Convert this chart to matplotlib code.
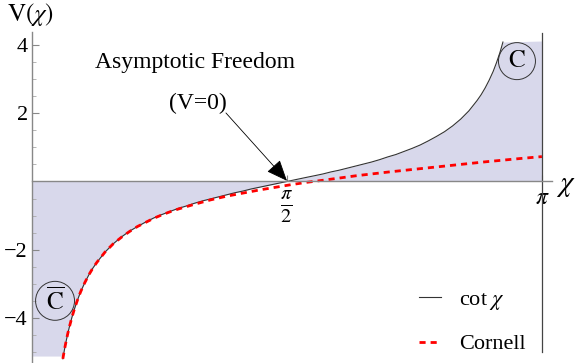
import numpy as np
import matplotlib
matplotlib.use('Agg')
import matplotlib.pyplot as plt

plt.rcParams['font.family'] = ['Liberation Serif', 'DejaVu Serif']
plt.rcParams['mathtext.fontset'] = 'stix'
plt.rcParams['axes.unicode_minus'] = True

# 读出的曲线点 (chi, cot chi 曲线)
chi = [0.19, 0.20, 0.21, 0.22, 0.23, 0.245, 0.26, 0.28, 0.30, 0.325, 0.35, 0.375,
       0.40, 0.45, 0.50, 0.55, 0.60, 0.65, 0.70, 0.75, 0.80, 0.85, 0.90, 0.95,
       1.00, 1.05, 1.10, 1.15, 1.20, 1.25, 1.30, 1.35, 1.40, 1.45, 1.52, 1.5708,
       1.62, 1.69, 1.7416, 1.7916, 1.8416, 1.8916, 1.9416, 1.9916, 2.0416, 2.0916,
       2.1416, 2.1916, 2.2416, 2.2916, 2.3416, 2.3916, 2.4416, 2.4916, 2.5416,
       2.5916, 2.6416, 2.6916, 2.7416, 2.7666, 2.7916, 2.8166, 2.8416, 2.8616,
       2.8816, 2.8916, 2.9016]
v_cot = [-5.20, -4.93, -4.69, -4.47, -4.27, -4.00, -3.76, -3.48, -3.23, -2.97,
         -2.74, -2.54, -2.37, -2.07, -1.83, -1.63, -1.46, -1.32, -1.19, -1.07,
         -0.97, -0.88, -0.79, -0.72, -0.64, -0.57, -0.51, -0.45, -0.39, -0.33,
         -0.28, -0.22, -0.17, -0.12, -0.05, 0.0, 0.05, 0.12, 0.17, 0.22, 0.28,
         0.33, 0.39, 0.45, 0.51, 0.57, 0.64, 0.72, 0.79, 0.88, 0.97, 1.07, 1.19,
         1.32, 1.46, 1.63, 1.83, 2.07, 2.37, 2.54, 2.74, 2.97, 3.23, 3.48, 3.76,
         3.92, 4.09]

# Cornell 曲线
chi_c = [0.19, 0.20, 0.21, 0.22, 0.23, 0.245, 0.26, 0.28, 0.30, 0.325, 0.35,
         0.375, 0.40, 0.45, 0.50, 0.55, 0.60, 0.65, 0.70, 0.75, 0.80, 0.85, 0.90,
         0.95, 1.00, 1.10, 1.20, 1.30, 1.40, 1.50, 1.60, 1.70, 1.80, 2.00, 2.20,
         2.40, 2.60, 2.80, 3.00, 3.1416]
v_cornell = [-5.20, -4.93, -4.69, -4.47, -4.27, -4.00, -3.76, -3.48, -3.23, -2.97,
             -2.74, -2.54, -2.37, -2.07, -1.83, -1.64, -1.47, -1.32, -1.20, -1.08,
             -0.98, -0.89, -0.81, -0.74, -0.67, -0.54, -0.43, -0.34, -0.25, -0.17,
             -0.09, -0.02, 0.04, 0.17, 0.28, 0.38, 0.48, 0.58, 0.67, 0.73]

y_lo, y_hi = -5.12, 4.12
x_ticks = [np.pi / 2, np.pi]
x_ticklabels = [r'$\frac{\pi}{2}$', r'$\pi$']
y_ticks = [-4, -2, 2, 4]

fig = plt.figure(figsize=(5.77, 3.63), dpi=100)
ax = fig.add_axes([32 / 577, 0, 520 / 577, 331 / 363])
ax.set_xlim(0, 520 / 162.3)
ax.set_ylim(-181.5 / 34.1 - 0.001, 149.5 / 34.1)

# 填充区域
xf = np.concatenate([[0.0], chi, [np.pi]])
yf = np.clip(np.concatenate([[y_lo], v_cot, [y_hi]]), y_lo, y_hi)
ax.fill_between(xf, 0, yf, color='#d8d8eb', lw=0)

ax.plot(chi, v_cot, color='#333333', lw=0.8, label=r'cot $\chi$')
ax.plot(chi_c, v_cornell, color='red', lw=2, ls=(0, (2.2, 1.8)), label='Cornell')

ax.plot([np.pi, np.pi], [4.35, -5.0], color='#444444', lw=0.9)

for s in ['top', 'right']:
    ax.spines[s].set_visible(False)
ax.spines['bottom'].set_position(('data', 0))
ax.spines['left'].set_position(('data', 0))
for s in ['bottom', 'left']:
    ax.spines[s].set_color('#888888')
    ax.spines[s].set_linewidth(1.0)

ax.set_yticks(y_ticks)
ax.set_yticks(np.arange(-5, 4.5, 0.5), minor=True)
ax.set_xticks(x_ticks)
ax.set_xticklabels(x_ticklabels)
ax.tick_params(axis='y', which='major', direction='in', length=5, color='#888888',
               labelsize=16, pad=3)
ax.tick_params(axis='y', which='minor', direction='in', length=3, color='#aaaaaa')
ax.tick_params(axis='x', which='major', direction='in', length=4, color='#888888',
               labelsize=16, pad=5)
ax.get_xticklabels()[0].set_fontsize(21)
ax.get_xticklabels()[1].set_fontsize(17)

fig.text(30 / 577, 1 - 14 / 363, r'$\mathrm{V}(\chi)$', fontsize=18, ha='center', va='center')
fig.text(566 / 577, 1 - 186 / 363, r'$\chi$', fontsize=21, ha='center', va='center')

ax.text(1.004, 3.50, 'Asymptotic Freedom', fontsize=17, ha='center', va='center')
ax.text(1.023, 2.30, '(V=0)', fontsize=17, ha='center', va='center')
ax.annotate('', xy=(np.pi / 2, 0.02), xytext=(1.195, 2.01),
            arrowprops=dict(arrowstyle='-|>,head_length=0.6,head_width=0.25',
                            color='black', lw=0.6, mutation_scale=22,
                            shrinkA=0, shrinkB=0))

ax.text(2.988, 3.53, r'$\mathrm{C}$', fontsize=18, ha='center', va='center',
        bbox=dict(boxstyle='circle,pad=0.3', fc='none', ec='#333333', lw=0.7))
ax.text(0.142, -3.50, r'$\overline{\mathrm{C}}$', fontsize=18, ha='center', va='center',
        bbox=dict(boxstyle='circle,pad=0.22', fc='none', ec='#333333', lw=0.7))

ax.legend(loc='upper left', bbox_to_anchor=(419 / 577, 1 - 289 / 363),
          bbox_transform=fig.transFigure, frameon=False, fontsize=16,
          handlelength=1.0, handletextpad=0.8, labelspacing=1.0, borderpad=0,
          borderaxespad=0)

plt.savefig('out.png', dpi=100)
